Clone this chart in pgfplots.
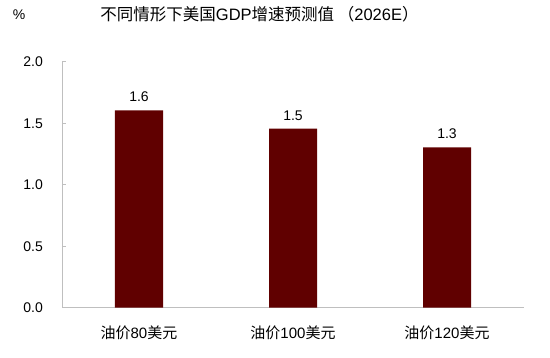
\documentclass[border=0pt]{standalone}
\usepackage{fontspec}
\setmainfont{Liberation Sans}
\newfontfamily\cjk{Noto Sans CJK SC}
\newcommand\C[1]{{\cjk #1}}
\usepackage{pgfplots}
\pgfplotsset{compat=1.18}
\definecolor{barred}{HTML}{600000}
\definecolor{axgray}{HTML}{BFBFBF}
\begin{document}
\begin{tikzpicture}
\useasboundingbox (0,0) rectangle (550bp,358bp);
\begin{axis}[
  at={(62bp,50.3bp)}, anchor=south west,
  scale only axis, width=462bp, height=246bp,
  xmin=-0.5, xmax=2.5, ymin=0, ymax=2,
  axis x line*=bottom, axis y line*=left,
  axis line style={draw=axgray, line width=0.8bp},
  ytick={0,0.5,1,1.5,2},
  /pgf/number format/assume math mode=true,
  yticklabel style={/pgf/number format/fixed, /pgf/number format/fixed zerofill, /pgf/number format/precision=1, anchor=base east, inner sep=0pt, xshift=-19bp, yshift=-5bp, font=\fontsize{14bp}{16bp}\selectfont},
  xtick={0,1,2},
  xticklabels={\C{油价}80\C{美元}, \C{油价}100\C{美元}, \C{油价}120\C{美元}},
  xticklabel style={anchor=base, inner sep=0pt, yshift=-26.3bp, font=\fontsize{15bp}{17bp}\selectfont},
  major x tick style={draw=none},
  major y tick style={draw=axgray, line width=0.8bp},
  tick align=inside, major tick length=4bp,
  ybar, bar width=48bp,
  nodes near coords, point meta=explicit symbolic,
  every node near coord/.style={anchor=base, inner sep=0pt, yshift=8.6bp, font=\fontsize{14bp}{16bp}\selectfont, text=black},
]
\addplot[fill=barred, draw=none] coordinates {(0,1.605)[1.6] (1,1.455)[1.5] (2,1.304)[1.3]};
\end{axis}
\node[anchor=base, inner sep=0pt, font=\fontsize{16.5bp}{19bp}\selectfont] at (259.5bp,337.5bp) {\C{不同情形下美国}GDP\C{增速预测值 （}2026E\C{）}};
\node[anchor=base, inner sep=0pt, font=\fontsize{14bp}{16bp}\selectfont] at (19bp,338bp) {\%};
\end{tikzpicture}
\end{document}
